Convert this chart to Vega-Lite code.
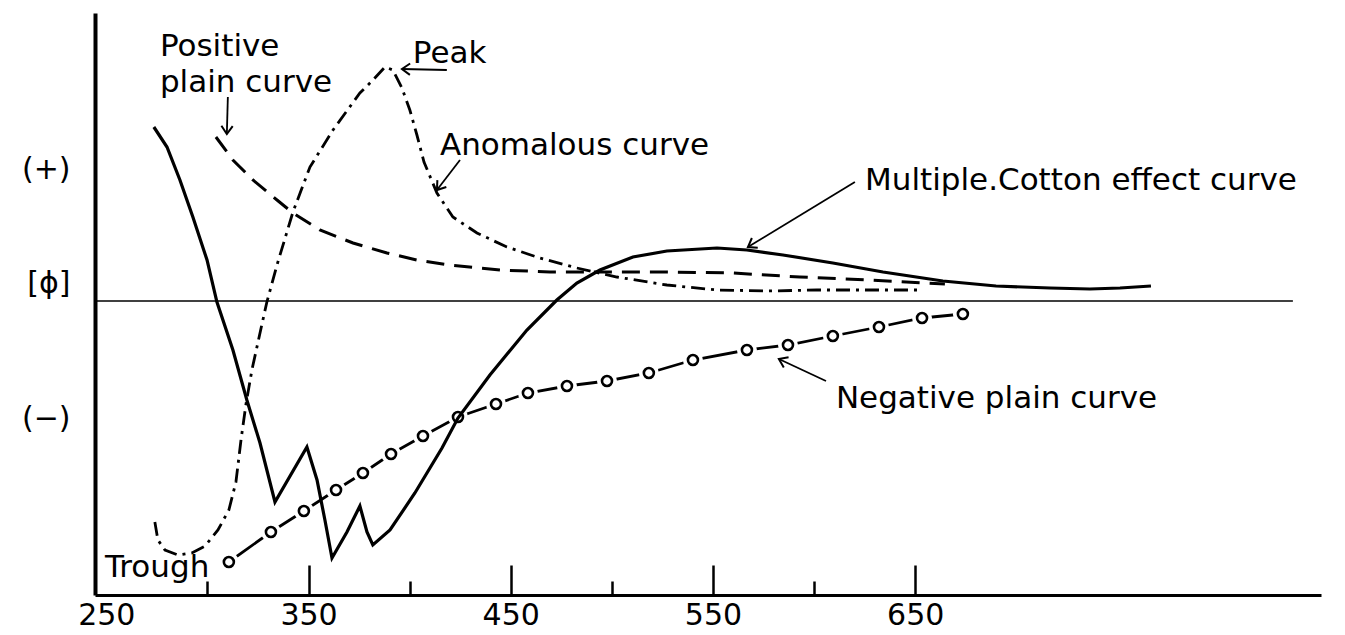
{
  "$schema": "https://vega.github.io/schema/vega-lite/v6.json",
  "width": 1226,
  "height": 582,
  "autosize": {"type": "none"},
  "padding": {"left": 95, "top": 13, "right": 24, "bottom": 40},
  "background": "white",
  "config": {"view": {"stroke": null}, "font": "DejaVu Sans"},
  "datasets": {
    "baseline": [{"x": 244.4, "x2": 836.8, "y": 0}],
    "cotton": [
      {"x": 273.5, "y": 17.4}, {"x": 280.0, "y": 15.4}, {"x": 286.4, "y": 12.1}, {"x": 292.8, "y": 8.4},
      {"x": 299.8, "y": 4.1}, {"x": 304.7, "y": -0.1}, {"x": 312.6, "y": -4.9}, {"x": 319.5, "y": -9.9},
      {"x": 326.0, "y": -14.2}, {"x": 333.4, "y": -20.1}, {"x": 349.2, "y": -14.6}, {"x": 354.2, "y": -17.9},
      {"x": 358.1, "y": -21.9}, {"x": 361.6, "y": -25.7}, {"x": 369.0, "y": -23.1}, {"x": 375.4, "y": -20.5},
      {"x": 378.9, "y": -23.1}, {"x": 381.8, "y": -24.4}, {"x": 390.3, "y": -22.9}, {"x": 402.6, "y": -19.2},
      {"x": 416.0, "y": -14.7}, {"x": 423.9, "y": -11.7}, {"x": 439.7, "y": -7.4}, {"x": 458.0, "y": -2.9},
      {"x": 472.8, "y": 0.1}, {"x": 482.7, "y": 1.8}, {"x": 494.1, "y": 3.1}, {"x": 510.4, "y": 4.4},
      {"x": 527.2, "y": 5.0}, {"x": 552.0, "y": 5.3}, {"x": 566.8, "y": 5.1}, {"x": 584.6, "y": 4.6},
      {"x": 609.3, "y": 3.8}, {"x": 634.1, "y": 2.9}, {"x": 663.7, "y": 2.0}, {"x": 690.0, "y": 1.5},
      {"x": 716.7, "y": 1.3}, {"x": 736.4, "y": 1.2}, {"x": 751.3, "y": 1.3}, {"x": 766.6, "y": 1.5}
    ],
    "positive": [
      {"x": 304.2, "y": 16.4}, {"x": 312.6, "y": 14.1}, {"x": 322.5, "y": 12.1}, {"x": 334.4, "y": 10.1},
      {"x": 342.3, "y": 8.8}, {"x": 355.6, "y": 7.1}, {"x": 372.0, "y": 5.8}, {"x": 388.8, "y": 4.8},
      {"x": 403.6, "y": 4.1}, {"x": 419.9, "y": 3.6}, {"x": 444.7, "y": 3.1}, {"x": 469.4, "y": 2.9},
      {"x": 494.1, "y": 2.9}, {"x": 527.2, "y": 2.9}, {"x": 559.9, "y": 2.8}, {"x": 593.0, "y": 2.4},
      {"x": 626.2, "y": 2.1}, {"x": 664.7, "y": 1.7}
    ],
    "anomalous": [
      {"x": 274.0, "y": -22.1}, {"x": 275.5, "y": -23.9}, {"x": 279.0, "y": -24.9}, {"x": 285.4, "y": -25.4},
      {"x": 292.3, "y": -25.2}, {"x": 298.8, "y": -24.5}, {"x": 305.2, "y": -22.9}, {"x": 310.6, "y": -20.9},
      {"x": 314.1, "y": -18.1}, {"x": 316.6, "y": -13.9}, {"x": 319.0, "y": -10.4}, {"x": 322.0, "y": -6.9},
      {"x": 326.0, "y": -3.2}, {"x": 329.4, "y": -0.1}, {"x": 334.4, "y": 3.6}, {"x": 342.3, "y": 8.9},
      {"x": 350.7, "y": 13.4}, {"x": 362.1, "y": 17.1}, {"x": 375.4, "y": 20.8}, {"x": 381.9, "y": 22.1},
      {"x": 387.8, "y": 23.4}, {"x": 391.7, "y": 23.1}, {"x": 396.2, "y": 21.3}, {"x": 400.1, "y": 19.1},
      {"x": 403.6, "y": 16.6}, {"x": 407.1, "y": 13.9}, {"x": 413.5, "y": 10.8}, {"x": 421.4, "y": 8.4},
      {"x": 433.3, "y": 6.8}, {"x": 448.1, "y": 5.4}, {"x": 464.4, "y": 4.3}, {"x": 482.7, "y": 3.3},
      {"x": 502.5, "y": 2.4}, {"x": 527.2, "y": 1.6}, {"x": 552.0, "y": 1.1}, {"x": 576.7, "y": 1.0},
      {"x": 601.4, "y": 1.1}, {"x": 622.7, "y": 1.1}, {"x": 650.9, "y": 1.1}
    ],
    "negative": [
      {"x": 310.6, "y": -26.1}, {"x": 331.4, "y": -23.1}, {"x": 347.7, "y": -21.0}, {"x": 363.6, "y": -18.9},
      {"x": 376.9, "y": -17.2}, {"x": 390.8, "y": -15.3}, {"x": 406.6, "y": -13.5}, {"x": 423.9, "y": -11.6},
      {"x": 442.7, "y": -10.3}, {"x": 458.5, "y": -9.2}, {"x": 477.8, "y": -8.5}, {"x": 497.6, "y": -8.0},
      {"x": 518.3, "y": -7.2}, {"x": 540.1, "y": -5.9}, {"x": 566.8, "y": -4.9}, {"x": 587.1, "y": -4.4},
      {"x": 609.3, "y": -3.5}, {"x": 632.1, "y": -2.6}, {"x": 653.4, "y": -1.7}, {"x": 673.6, "y": -1.3}
    ],
    "labels": [
      {"x": 276.5, "y": 24.5, "text": "Positive\nplain curve"},
      {"x": 401.6, "y": 23.8, "text": "Peak"},
      {"x": 415.0, "y": 14.6, "text": "Anomalous curve"},
      {"x": 625.2, "y": 11.1, "text": "Multiple.Cotton effect curve"},
      {"x": 610.8, "y": -10.7, "text": "Negative plain curve"},
      {"x": 249.3, "y": -27.6, "text": "Trough"}
    ],
    "arrows": [
      {"x": 310.1, "y": 20.4, "x2": 309.6, "y2": 16.7},
      {"x": 418.4, "y": 23.1, "x2": 396.2, "y2": 23.2},
      {"x": 424.9, "y": 14.1, "x2": 413.5, "y2": 11.1},
      {"x": 620.2, "y": 11.9, "x2": 567.3, "y2": 5.4},
      {"x": 605.9, "y": -8.0, "x2": 582.6, "y2": -5.8}
    ]
  },
  "encoding": {
    "x": {
      "field": "x", "type": "quantitative",
      "scale": {"domain": [244.4, 850.7], "nice": false, "zero": false},
      "axis": {
        "values": [250, 300, 350, 400, 450, 500, 550, 600, 650],
        "labelExpr": "datum.value % 100 == 50 ? datum.label : ''",
        "title": null, "grid": false,
        "domainColor": "black", "domainWidth": 3,
        "tickColor": "black", "tickWidth": 2.5,
        "tickSize": {"condition": {"test": "datum.value % 100 == 50", "value": -30}, "value": -14},
        "tickOpacity": {"condition": {"test": "datum.value == 250", "value": 0}, "value": 1},
        "labelFontSize": 30, "labelFont": "DejaVu Sans", "labelColor": "black",
        "labelBaseline": "alphabetic", "labelPadding": 59,
        "labelFlush": false, "labelOverlap": false
      }
    },
    "y": {
      "field": "y", "type": "quantitative",
      "scale": {"domain": [-29.4, 28.8], "nice": false, "zero": false},
      "axis": {
        "values": [13.2, 1.8, -11.7],
        "labelExpr": "datum.value > 5 ? '(+)' : (datum.value > 0 ? '[ϕ]' : '(−)')",
        "ticks": false, "grid": false, "title": null,
        "domainColor": "black", "domainWidth": 4,
        "labelFontSize": 30, "labelFont": "DejaVu Sans", "labelColor": "black",
        "labelPadding": 25, "labelBaseline": "middle",
        "labelFlush": false, "labelOverlap": false
      }
    }
  },
  "layer": [
    {
      "data": {"name": "baseline"},
      "mark": {"type": "rule", "color": "black", "strokeWidth": 1.6},
      "encoding": {"x2": {"field": "x2"}}
    },
    {
      "data": {"name": "negative"},
      "mark": {"type": "line", "color": "black", "strokeWidth": 2.8},
      "encoding": {}
    },
    {
      "data": {"name": "negative"},
      "mark": {"type": "point", "shape": "circle", "filled": true, "color": "white", "size": 400, "opacity": 1, "strokeWidth": 0},
      "encoding": {}
    },
    {
      "data": {"name": "negative"},
      "mark": {"type": "point", "shape": "circle", "fill": "white", "stroke": "black", "strokeWidth": 2.6, "size": 100, "opacity": 1, "fillOpacity": 1},
      "encoding": {}
    },
    {
      "data": {"name": "positive"},
      "mark": {"type": "line", "color": "black", "strokeWidth": 3, "strokeDash": [18, 10]},
      "encoding": {}
    },
    {
      "data": {"name": "anomalous"},
      "mark": {"type": "line", "color": "black", "strokeWidth": 2.8, "strokeDash": [14, 6, 3, 6]},
      "encoding": {}
    },
    {
      "data": {"name": "cotton"},
      "mark": {"type": "line", "color": "black", "strokeWidth": 3.2, "strokeJoin": "miter"},
      "encoding": {}
    },
    {
      "data": {"name": "arrows"},
      "mark": {"type": "rule", "color": "black", "strokeWidth": 1.8},
      "encoding": {"x2": {"field": "x2"}, "y2": {"field": "y2"}}
    },
    {
      "data": {"name": "arrows"},
      "transform": [
        {"calculate": "atan2(-(datum.y2 - datum.y) * 10, (datum.x2 - datum.x) * 2.0221) * 180 / PI", "as": "ang"}
      ],
      "mark": {"type": "point", "shape": "M -1 -0.7 L 0 0 L -1 0.7", "filled": false, "stroke": "black", "strokeWidth": 2, "size": 260, "opacity": 1},
      "encoding": {
        "x": {"field": "x2", "type": "quantitative"},
        "y": {"field": "y2", "type": "quantitative"},
        "angle": {"field": "ang", "type": "quantitative", "scale": null}
      }
    },
    {
      "data": {"name": "labels"},
      "mark": {"type": "text", "align": "left", "baseline": "alphabetic", "fontSize": 31, "font": "DejaVu Sans", "color": "black", "lineBreak": "\n", "lineHeight": 36},
      "encoding": {"text": {"field": "text"}}
    }
  ]
}
